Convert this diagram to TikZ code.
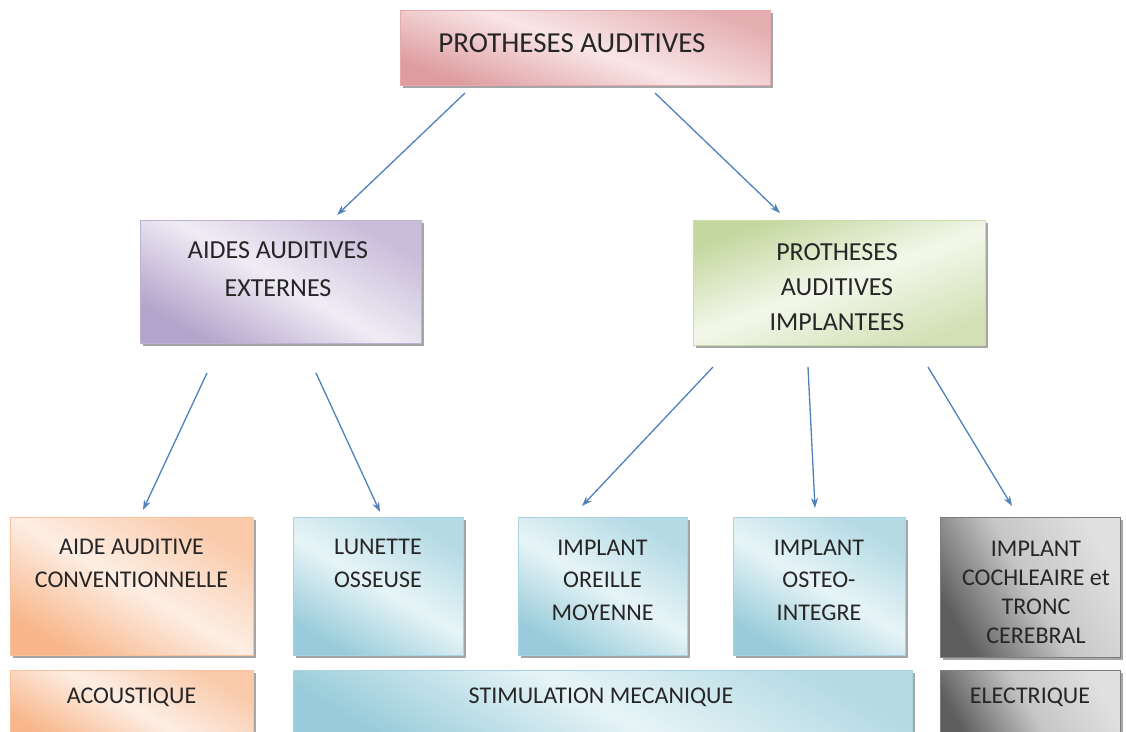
\documentclass[tikz,border=0pt]{standalone}
\usepackage{fontspec}
\setmainfont{Carlito}
\usetikzlibrary{arrows.meta,shadows}
\definecolor{arrowblue}{HTML}{4F81BD}
\definecolor{pinkD}{HTML}{DE9CA0}\definecolor{pinkL}{HTML}{F9E6E6}
\definecolor{purD}{HTML}{B3A4CB}\definecolor{purL}{HTML}{F0ECF5}
\definecolor{grnD}{HTML}{C3D79E}\definecolor{grnL}{HTML}{F3F7EA}
\definecolor{orgD}{HTML}{F8B68A}\definecolor{orgL}{HTML}{FDEEE4}
\definecolor{bluD}{HTML}{98CCDA}\definecolor{bluL}{HTML}{E7F4F7}
\definecolor{gryD}{HTML}{5E5E5E}\definecolor{gryL}{HTML}{E0E0E0}
\begin{document}
\begin{tikzpicture}[x=1pt,y=-1pt,
  base/.style={rectangle, inner sep=0pt, line width=0.7pt,
    drop shadow={shadow xshift=2.5pt, shadow yshift=-3pt, fill=black, opacity=0.35}},
  pinkbox/.style={base, draw=pinkD!85!white, left color=pinkD, right color=pinkD!75!pinkL, middle color=pinkL, shading angle=160},
  purbox/.style={base, draw=purD!85!white, left color=purD, right color=purD!65!purL, middle color=purL, shading angle=150},
  grnbox/.style={base, draw=grnD!85!white, left color=grnD!70!grnL, right color=grnD, middle color=grnL, shading angle=200},
  orgbox/.style={base, draw=orgD!85!white, left color=orgD, right color=orgD!65!orgL, middle color=orgL, shading angle=150},
  blubox/.style={base, draw=bluD!85!white, left color=bluD, right color=bluD!65!bluL, middle color=bluL, shading angle=150},
  grybox/.style={base, draw=gryD!80!white, left color=gryD, right color=gryL, middle color=gryL!80!gryD, shading angle=120},
  txtT/.style={align=center, inner sep=0pt, font=\fontsize{29}{35}\selectfont, text=black!85},
  txtM/.style={align=center, inner sep=0pt, font=\fontsize{26}{#1}\selectfont, text=black!85},
  txtS/.style={align=center, inner sep=0pt, font=\fontsize{24}{#1}\selectfont, text=black!85},
  arr/.style={draw=arrowblue, line width=1.3pt, -{Stealth[length=10pt,width=7pt]}}
]
\useasboundingbox (0,0) rectangle (1126,731);
\fill[white] (0,0) rectangle (1126,731);

% top
\node[pinkbox, minimum width=370pt, minimum height=75pt] (top) at (585,47.5) {};
\node[txtT] (topT) at (572,43) {PROTHESES AUDITIVES};

% middle
\node[purbox, minimum width=281pt, minimum height=123pt] (ext) at (280.5,281.5) {};
\node[txtM=38] (extT) at (278,269) {AIDES AUDITIVES\\EXTERNES};
\node[grnbox, minimum width=292pt, minimum height=125pt] (imp) at (839,282.5) {};
\node[txtM=35] (impT) at (837,287) {PROTHESES\\AUDITIVES\\IMPLANTEES};

% bottom boxes
\node[orgbox, minimum width=243pt, minimum height=138pt] (aide) at (131.5,586) {};
\node[txtS=33] (aideT) at (131.5,563.5) {AIDE AUDITIVE\\CONVENTIONNELLE};
\node[blubox, minimum width=170pt, minimum height=138pt] (lun) at (378,586) {};
\node[txtS=33] (lunT) at (378,563.5) {LUNETTE\\OSSEUSE};
\node[blubox, minimum width=169pt, minimum height=138pt] (ore) at (602.5,586) {};
\node[txtS=32.5] (oreT) at (602.5,580) {IMPLANT\\OREILLE\\MOYENNE};
\node[blubox, minimum width=172pt, minimum height=138pt] (ost) at (819,586) {};
\node[txtS=32.5] (ostT) at (819,580) {IMPLANT\\OSTEO-\\INTEGRE};
\node[grybox, minimum width=180pt, minimum height=140pt] (coc) at (1030,587) {};
\node[txtS=29] (cocT) at (1036,592) {IMPLANT\\COCHLEAIRE et\\TRONC\\CEREBRAL};

% bottom row
\node[orgbox, minimum width=243pt, minimum height=75pt] (aco) at (131.5,707.5) {};
\node[txtS=29] (acoT) at (131.5,697) {ACOUSTIQUE};
\node[blubox, minimum width=619pt, minimum height=75pt] (sti) at (602.5,707.5) {};
\node[txtS=29] (stiT) at (601,697) {STIMULATION MECANIQUE};
\node[grybox, minimum width=180pt, minimum height=75pt] (ele) at (1030,707.5) {};
\node[txtS=29] (eleT) at (1030,697) {ELECTRIQUE};

% arrows
\coordinate (a1s) at (465,93);  \coordinate (a1e) at (337,215);
\coordinate (a2s) at (655,93);  \coordinate (a2e) at (780,213);
\coordinate (a3s) at (207,373); \coordinate (a3e) at (143,510);
\coordinate (a4s) at (316,373); \coordinate (a4e) at (380,512);
\coordinate (a5s) at (713,367); \coordinate (a5e) at (582,506);
\coordinate (a6s) at (808,367); \coordinate (a6e) at (815,508);
\coordinate (a7s) at (928,367); \coordinate (a7e) at (1012,506);
\draw[arr] (a1s) -- (a1e);
\draw[arr] (a2s) -- (a2e);
\draw[arr] (a3s) -- (a3e);
\draw[arr] (a4s) -- (a4e);
\draw[arr] (a5s) -- (a5e);
\draw[arr] (a6s) -- (a6e);
\draw[arr] (a7s) -- (a7e);
\end{tikzpicture}
\end{document}
